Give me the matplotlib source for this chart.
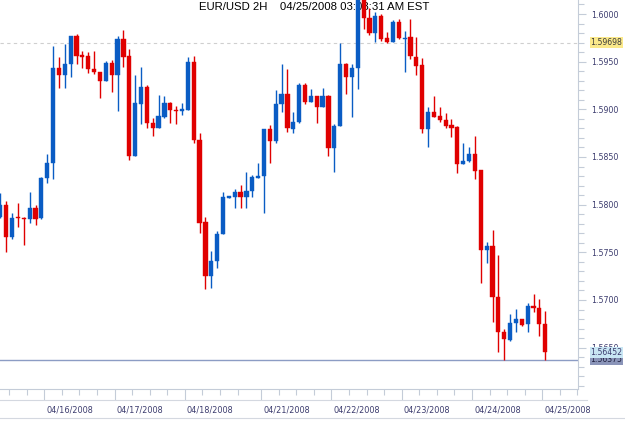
import numpy as np
import matplotlib.pyplot as plt
import matplotlib.transforms as mtransforms
from matplotlib.ticker import MultipleLocator, FixedLocator

# 2H EUR/USD candles (open, high, low, close)
opens = [1.57874, 1.57996, 1.57664, 1.57867, 1.57863, 1.57846, 1.57968, 1.57857, 1.58277, 1.58434,
         1.59437, 1.59360, 1.59472, 1.59769, 1.59570, 1.59559, 1.59423, 1.59388, 1.59297, 1.59486,
         1.59360, 1.59736, 1.59559, 1.58510, 1.59056, 1.59232, 1.58860, 1.58807, 1.58920, 1.59066,
         1.58993, 1.58982, 1.58993, 1.59497, 1.58683, 1.57818, 1.57252, 1.57404, 1.57689, 1.58073,
         1.58084, 1.58130, 1.58084, 1.58143, 1.58283, 1.58301, 1.58794, 1.58671, 1.59053, 1.59158,
         1.58794, 1.58864, 1.59255, 1.59080, 1.59140, 1.59028, 1.59140, 1.58597, 1.58825, 1.59476,
         1.59342, 1.59437, 1.60190, 1.59955, 1.59804, 1.59979, 1.59745, 1.59709, 1.59919, 1.59741,
         1.59762, 1.59552, 1.59465, 1.58791, 1.58969, 1.58930, 1.58888, 1.58836, 1.58818, 1.58427,
         1.58461, 1.58531, 1.58364, 1.57524, 1.57566, 1.57034, 1.56667, 1.56580, 1.56755, 1.56797,
         1.56745, 1.56937, 1.56919, 1.56748]
highs = [1.58122, 1.58038, 1.57909, 1.58021, 1.57870, 1.58136, 1.57996, 1.58293, 1.58528, 1.59667,
         1.59552, 1.59685, 1.59774, 1.59787, 1.59612, 1.59605, 1.59612, 1.59392, 1.59507, 1.59517,
         1.59771, 1.59837, 1.59633, 1.59360, 1.59441, 1.59255, 1.58906, 1.59150, 1.59140, 1.59072,
         1.59035, 1.59063, 1.59549, 1.59559, 1.58755, 1.57874, 1.57514, 1.57727, 1.58130, 1.58091,
         1.58164, 1.58206, 1.58339, 1.58311, 1.58434, 1.58794, 1.58836, 1.59198, 1.59476, 1.59423,
         1.58969, 1.59276, 1.59273, 1.59213, 1.59145, 1.59221, 1.59150, 1.58843, 1.59693, 1.59481,
         1.59476, 1.60240, 1.60260, 1.60060, 1.60020, 1.60000, 1.59814, 1.59937, 1.59944, 1.59822,
         1.59944, 1.59762, 1.59535, 1.59021, 1.59140, 1.59028, 1.58958, 1.58895, 1.58825, 1.58644,
         1.58608, 1.58720, 1.58364, 1.57611, 1.57734, 1.57469, 1.56696, 1.56853, 1.56902, 1.56800,
         1.56965, 1.57060, 1.57007, 1.56885]
lows = [1.57860, 1.57507, 1.57637, 1.57769, 1.57577, 1.57804, 1.57787, 1.57850, 1.58224, 1.58269,
        1.59221, 1.59221, 1.59342, 1.59472, 1.59430, 1.59384, 1.59371, 1.59122, 1.59292, 1.59177,
        1.58982, 1.59447, 1.58468, 1.58510, 1.58841, 1.58809, 1.58720, 1.58804, 1.58914, 1.58857,
        1.58851, 1.58941, 1.58988, 1.58644, 1.57706, 1.57112, 1.57123, 1.57332, 1.57689, 1.58073,
        1.57968, 1.57962, 1.57968, 1.58084, 1.58277, 1.57916, 1.58440, 1.58647, 1.58969, 1.58765,
        1.58749, 1.58853, 1.59053, 1.59074, 1.58860, 1.59021, 1.58514, 1.58346, 1.58825, 1.59158,
        1.58923, 1.59210, 1.59843, 1.59780, 1.59709, 1.59720, 1.59698, 1.59706, 1.59743, 1.59395,
        1.59525, 1.59360, 1.58749, 1.58608, 1.58920, 1.58870, 1.58801, 1.58707, 1.58329, 1.58427,
        1.58444, 1.58266, 1.57181, 1.57385, 1.56766, 1.56458, 1.56375, 1.56569, 1.56661, 1.56727,
        1.56661, 1.56871, 1.56622, 1.56375]
closes = [1.57996, 1.57664, 1.57863, 1.57857, 1.57846, 1.57968, 1.57850, 1.58283, 1.58434, 1.59437,
          1.59360, 1.59472, 1.59769, 1.59563, 1.59552, 1.59420, 1.59388, 1.59300, 1.59486, 1.59360,
          1.59736, 1.59552, 1.58510, 1.59063, 1.59232, 1.58857, 1.58807, 1.58930, 1.59066, 1.58990,
          1.58986, 1.59000, 1.59497, 1.58678, 1.57811, 1.57252, 1.57409, 1.57692, 1.58077, 1.58091,
          1.58130, 1.58084, 1.58143, 1.58293, 1.58304, 1.58794, 1.58671, 1.59053, 1.59158, 1.58801,
          1.58864, 1.59255, 1.59080, 1.59140, 1.59028, 1.59140, 1.58597, 1.58828, 1.59476, 1.59342,
          1.59437, 1.60190, 1.59955, 1.59804, 1.59979, 1.59738, 1.59703, 1.59919, 1.59745, 1.59751,
          1.59559, 1.59458, 1.58791, 1.58969, 1.58923, 1.58888, 1.58828, 1.58807, 1.58427, 1.58461,
          1.58531, 1.58356, 1.57524, 1.57566, 1.57034, 1.56667, 1.56588, 1.56755, 1.56797, 1.56738,
          1.56937, 1.56919, 1.56745, 1.56452]

day_labels = ['04/15/2008', '04/16/2008', '04/17/2008', '04/18/2008', '04/21/2008',
              '04/22/2008', '04/23/2008', '04/24/2008', '04/25/2008']
day_starts = [-4.5, 7.5, 19.5, 31.5, 44.5, 56.5, 68.5, 80.5, 92.5]   # candle index of each day break

hi_line = 1.59698
last_price = 1.56452
lo_line = 1.56375
title = 'EUR/USD 2H    04/25/2008 03:08:31 AM EST'

blue = '#0a5cc4'
red = '#e00000'
label_col = '#3c3c6e'
axis_col = '#c4ccd8'

W, H = 625, 423
fig = plt.figure(figsize=(W / 100, H / 100), dpi=100)
ax = fig.add_axes([0, 1 - 389 / H, 577.7 / W, 389 / H])

o = np.array(opens); h = np.array(highs); l = np.array(lows); c = np.array(closes)
x = np.arange(len(o))
up = c >= o
cols = np.where(up, blue, red)
body_lo = np.minimum(o, c)
body_h = np.maximum(np.abs(c - o), 0.00003)

ax.vlines(x, l, h, colors=cols, lw=1.0, zorder=3)
ax.bar(x, body_h, bottom=body_lo, width=0.72, color=cols, edgecolor=cols, lw=0.3, zorder=4)

ax.axhline(hi_line, color='#cfcfcf', lw=0.8, ls=(0, (3, 3)), zorder=2)
ax.axhline(lo_line, color='#8c9cc4', lw=1.0, zorder=2)

ax.set_xlim(-0.06, 98.54)
ax.set_ylim(1.56066, 1.60147)

for s in ['top', 'left']:
    ax.spines[s].set_visible(False)
ax.spines['right'].set_color(axis_col)
ax.spines['bottom'].set_color(axis_col)

ax.yaxis.tick_right()
ax.yaxis.set_major_locator(MultipleLocator(0.005))
ax.yaxis.set_minor_locator(MultipleLocator(0.001))
ax.yaxis.set_major_formatter(lambda v, p: '%.4f' % v)
ax.tick_params(axis='y', which='major', length=6, width=0.8, color=axis_col,
               labelsize=5.7, labelcolor=label_col, pad=4)
ax.tick_params(axis='y', which='minor', length=4, width=0.8, color=axis_col)

minor = []
for a, b in zip(day_starts, day_starts[1:] + [day_starts[-1] + 12]):
    minor += list(np.arange(a + 3, b - 1, 3))
ax.xaxis.set_major_locator(FixedLocator(day_starts))
ax.xaxis.set_minor_locator(FixedLocator(minor))
ax.set_xticklabels(day_labels, ha='left', fontsize=5.9, color=label_col)
ax.tick_params(axis='x', which='major', length=8, width=0.8, color=axis_col, pad=4)
ax.tick_params(axis='x', which='minor', length=4, width=0.8, color=axis_col)
offset = mtransforms.ScaledTranslation(2 / 100, 0, fig.dpi_scale_trans)
for t in ax.get_xticklabels():
    t.set_transform(t.get_transform() + offset)

ax.text(0.5444, 1 - 2.5 / 389, title, transform=ax.transAxes, ha='center', va='top',
        fontsize=8.2, family='Liberation Sans', color='black', zorder=1)

# separators of the date strip
fig.add_artist(plt.Line2D([0, 587 / W], [1 - 400 / H] * 2, color='#d4d8e0', lw=0.8))
fig.add_artist(plt.Line2D([0, 1], [1 - 418 / H] * 2, color='#d4d8e0', lw=0.8))

# price boxes on the right axis
def price_box(v, fc, tc):
    ax.annotate('%.5f' % v, xy=(1, v), xycoords=('axes fraction', 'data'),
                xytext=(9.2, 0), textcoords='offset points', va='center', ha='left',
                fontsize=5.6, color=tc, annotation_clip=False,
                bbox=dict(boxstyle='square,pad=0.12', fc=fc, ec='none'))

price_box(hi_line, '#fbe98a', '#3c3c3c')
price_box(lo_line, '#8a94b8', '#202040')
price_box(last_price, '#c8e6f4', '#3c3c6e')

fig.savefig('out.png', dpi=100)
